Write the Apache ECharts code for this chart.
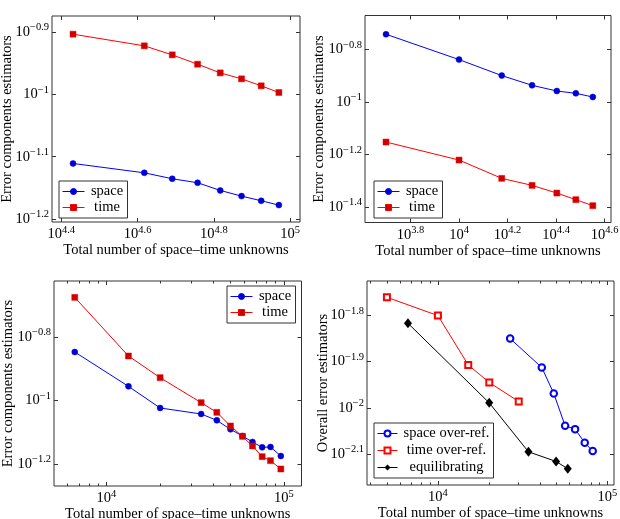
<!DOCTYPE html>
<html>
<head>
<meta charset="utf-8">
<script src="https://cdn.jsdelivr.net/npm/echarts@6/dist/echarts.min.js"></script>
<style>
  html, body { margin: 0; padding: 0; background: #fff; }
  #main { width: 620px; height: 519px; }
</style>
</head>
<body>
<div id="main"></div>
<script>
// top left: refinement study, N unknowns vs estimators
const nA = [26960, 41460, 49090, 57200, 65580, 74600, 83990, 93460];
const spaceA = [0.07748, 0.07485, 0.07322, 0.07215, 0.07013, 0.06867, 0.06750, 0.06642];
const timeA = [0.12497, 0.11970, 0.11577, 0.11184, 0.10831, 0.10594, 0.10324, 0.10073];
// top right
const nB = [5000, 10000, 15000, 20000, 25300, 30300, 35600];
const spaceB = [0.18131, 0.14514, 0.12612, 0.11579, 0.11015, 0.10794, 0.10449];
const timeB = [0.07036, 0.06006, 0.05114, 0.04809, 0.04495, 0.04241, 0.04023];
// bottom left
const nC = [6630, 13310, 20080, 34200, 41910, 50050, 58490, 66620, 75510, 84140, 96230];
const spaceC = [0.14216, 0.11081, 0.09472, 0.09068, 0.08660, 0.08113, 0.07731, 0.07401, 0.07120, 0.07137, 0.06686];
const timeC = [0.21128, 0.13810, 0.11801, 0.09845, 0.09177, 0.08312, 0.07711, 0.07190, 0.06654, 0.06464, 0.06086];
// bottom right: overall estimators
const nSpaceD = [26700, 41050, 48300, 56350, 64520, 73580, 82000];
const spaceD = [0.014112, 0.012218, 0.010735, 0.009141, 0.008991, 0.008401, 0.008060];
const nTimeD = [5000, 10000, 15100, 20100, 30000];
const timeD = [0.017334, 0.015823, 0.012379, 0.011340, 0.010316];
const nEquiD = [6655, 20080, 34240, 49850, 58420];
const equiD = [0.015230, 0.010249, 0.008031, 0.007654, 0.007380];

// tick exponents (labels are 10^e)
const xTicksA = [4.4, 4.6, 4.8, 5];
const yTicksA = [-0.9, -1, -1.1, -1.2];
const xTicksB = [3.8, 4, 4.2, 4.4, 4.6];
const yTicksB = [-0.8, -1, -1.2, -1.4];
const xTicksC = [4, 5];
const yTicksC = [-0.8, -1, -1.2];
const xTicksD = [4, 5];
const yTicksD = [-1.8, -1.9, -2, -2.1];
const minorC = [6000, 7000, 8000, 9000, 20000, 30000, 40000, 50000, 60000, 70000, 80000, 90000];
const minorD = [4000, 5000, 6000, 7000, 8000, 9000, 20000, 30000, 40000, 50000, 60000, 70000, 80000, 90000];

const F = 'Liberation Serif';
const AX = '#333';
const X_NAME = 'Total number of space\u2013time unknowns';

const RICH = {
  b: { fontFamily: F, fontSize: 14.5, lineHeight: 20, color: '#000' },
  s: { fontFamily: F, fontSize: 10.5, lineHeight: 9, verticalAlign: 'top', color: '#000' }
};

function expLabel(v) {
  let s = String(Math.round(v * 10) / 10).replace('-', '\u2212');
  return '{b|10}{s|' + s + '}';
}

function pts(xs, ys) {
  return xs.map(function (x, i) { return [Math.log10(x), Math.log10(ys[i])]; });
}

const panels = [
  { grid: { left: 52, top: 16, width: 248, height: 206 }, x: [4.3756, 5.026], y: [-1.2048, -0.874],
    xt: xTicksA, yt: yTicksA, minor: [], yName: 'Error components estimators', yGap: 37.5 },
  { grid: { left: 365, top: 15.5, width: 246, height: 207 }, x: [3.6124, 4.6264], y: [-1.4596, -0.670],
    xt: xTicksB, yt: yTicksB, minor: [], yName: 'Error components estimators', yGap: 38 },
  { grid: { left: 54, top: 281, width: 247.5, height: 205 }, x: [3.7045, 5.0998], y: [-1.2693, -0.6236],
    xt: xTicksC, yt: yTicksC, minor: minorC.map(Math.log10), yName: 'Error components estimators', yGap: 38 },
  { grid: { left: 367, top: 281, width: 247, height: 204 }, x: [3.5814, 5.0395], y: [-2.167, -1.7259],
    xt: xTicksD, yt: yTicksD, minor: minorD.map(Math.log10), yName: 'Overall error estimators', yGap: 36 }
];

const grids = [], xAxes = [], yAxes = [], mainX = [], mainY = [];

function tickAxis(base, ticks, len) {
  return Object.assign(base, {
    axisLine: { show: false },
    splitLine: { show: false },
    axisTick: { show: true, inside: true, length: len, customValues: ticks, lineStyle: { color: AX, width: 1 } },
    axisLabel: { show: false }
  });
}

panels.forEach(function (p, gi) {
  grids.push(Object.assign({ show: true, borderColor: AX, borderWidth: 1, outerBoundsMode: 'none' }, p.grid));

  // bottom axis with labels
  mainX.push(xAxes.length);
  const bx = tickAxis({ type: 'value', gridIndex: gi, position: 'bottom', min: p.x[0], max: p.x[1] }, p.xt, 4);
  bx.axisLabel = { show: true, customValues: p.xt, formatter: expLabel, margin: 2.5, rich: RICH };
  bx.name = X_NAME;
  bx.nameLocation = 'middle';
  bx.nameGap = 21;
  bx.nameMoveOverlap = false;
  bx.nameTextStyle = { fontFamily: F, fontSize: 14.5, color: '#000' };
  xAxes.push(bx);
  xAxes.push(tickAxis({ type: 'value', gridIndex: gi, position: 'top', min: p.x[0], max: p.x[1] }, p.xt, 4));
  if (p.minor.length) {
    xAxes.push(tickAxis({ type: 'value', gridIndex: gi, position: 'bottom', min: p.x[0], max: p.x[1] }, p.minor, 2.5));
    xAxes.push(tickAxis({ type: 'value', gridIndex: gi, position: 'top', min: p.x[0], max: p.x[1] }, p.minor, 2.5));
  }

  // left axis with labels
  mainY.push(yAxes.length);
  const ly = tickAxis({ type: 'value', gridIndex: gi, position: 'left', min: p.y[0], max: p.y[1] }, p.yt, 4);
  ly.axisLabel = { show: true, customValues: p.yt, formatter: expLabel, margin: 3, rich: RICH };
  ly.name = p.yName;
  ly.nameLocation = 'middle';
  ly.nameGap = p.yGap;
  ly.nameRotate = 90;
  ly.nameMoveOverlap = false;
  ly.nameTextStyle = { fontFamily: F, fontSize: 14.5, color: '#000' };
  yAxes.push(ly);
  yAxes.push(tickAxis({ type: 'value', gridIndex: gi, position: 'right', min: p.y[0], max: p.y[1] }, p.yt, 4));
});

function spaceSeries(gi, data) {
  return {
    name: 'space', type: 'line', xAxisIndex: mainX[gi], yAxisIndex: mainY[gi], data: data,
    symbol: 'circle', symbolSize: 6,
    itemStyle: { color: '#0000cc', borderColor: '#0000ff', borderWidth: 0.5 },
    lineStyle: { color: '#0000ff', width: 1 }
  };
}
function timeSeries(gi, data) {
  return {
    name: 'time', type: 'line', xAxisIndex: mainX[gi], yAxisIndex: mainY[gi], data: data,
    symbol: 'rect', symbolSize: 6,
    itemStyle: { color: '#cc0000', borderColor: '#ff0000', borderWidth: 0.5 },
    lineStyle: { color: '#ff0000', width: 1 }
  };
}

const series = [
  spaceSeries(0, pts(nA, spaceA)), timeSeries(0, pts(nA, timeA)),
  spaceSeries(1, pts(nB, spaceB)), timeSeries(1, pts(nB, timeB)),
  spaceSeries(2, pts(nC, spaceC)), timeSeries(2, pts(nC, timeC)),
  {
    name: 'space over-ref.', type: 'line', xAxisIndex: mainX[3], yAxisIndex: mainY[3], data: pts(nSpaceD, spaceD),
    symbol: 'emptyCircle', symbolSize: 6.5,
    itemStyle: { color: '#0000ff', borderColor: '#0000ff', borderWidth: 1 },
    lineStyle: { color: '#0000ff', width: 1 }
  },
  {
    name: 'time over-ref.', type: 'line', xAxisIndex: mainX[3], yAxisIndex: mainY[3], data: pts(nTimeD, timeD),
    symbol: 'emptyRect', symbolSize: 6,
    itemStyle: { color: '#ff0000', borderColor: '#ff0000', borderWidth: 1 },
    lineStyle: { color: '#ff0000', width: 1 }
  },
  {
    name: 'equilibrating', type: 'line', xAxisIndex: mainX[3], yAxisIndex: mainY[3], data: pts(nEquiD, equiD),
    symbol: 'diamond', symbolSize: [8, 10],
    itemStyle: { color: '#000' },
    lineStyle: { color: '#000', width: 1 }
  }
];

function legendBox(left, top, names, textW, iconW, lh, gap) {
  return {
    orient: 'vertical', left: left, top: top, data: names,
    itemWidth: iconW, itemHeight: 7.5, itemGap: gap,
    padding: [3, 3, 3, 3],
    borderColor: AX, borderWidth: 1, backgroundColor: '#fff',
    selectedMode: false,
    lineStyle: { width: 1 },
    itemStyle: { borderWidth: 1 },
    formatter: function (n) { return '{t|' + n + '}'; },
    textStyle: {
      fontFamily: F, fontSize: 14.5, color: '#000',
      rich: { t: { fontFamily: F, fontSize: 14.5, lineHeight: lh, width: textW, align: 'center' } }
    }
  };
}

const chart = echarts.init(document.getElementById('main'));
chart.setOption({
  animation: false,
  backgroundColor: '#fff',
  grid: grids,
  xAxis: xAxes,
  yAxis: yAxes,
  legend: [
    legendBox(59, 181, ['space', 'time'], 35, 22, 14, 1),
    legendBox(374, 181, ['space', 'time'], 35, 22, 14, 1),
    legendBox(227, 286, ['space', 'time'], 35, 22, 14, 1),
    legendBox(374, 423, ['space over-ref.', 'time over-ref.', 'equilibrating'], 88, 20, 15, 2)
  ],
  series: series
});
</script>
</body>
</html>
